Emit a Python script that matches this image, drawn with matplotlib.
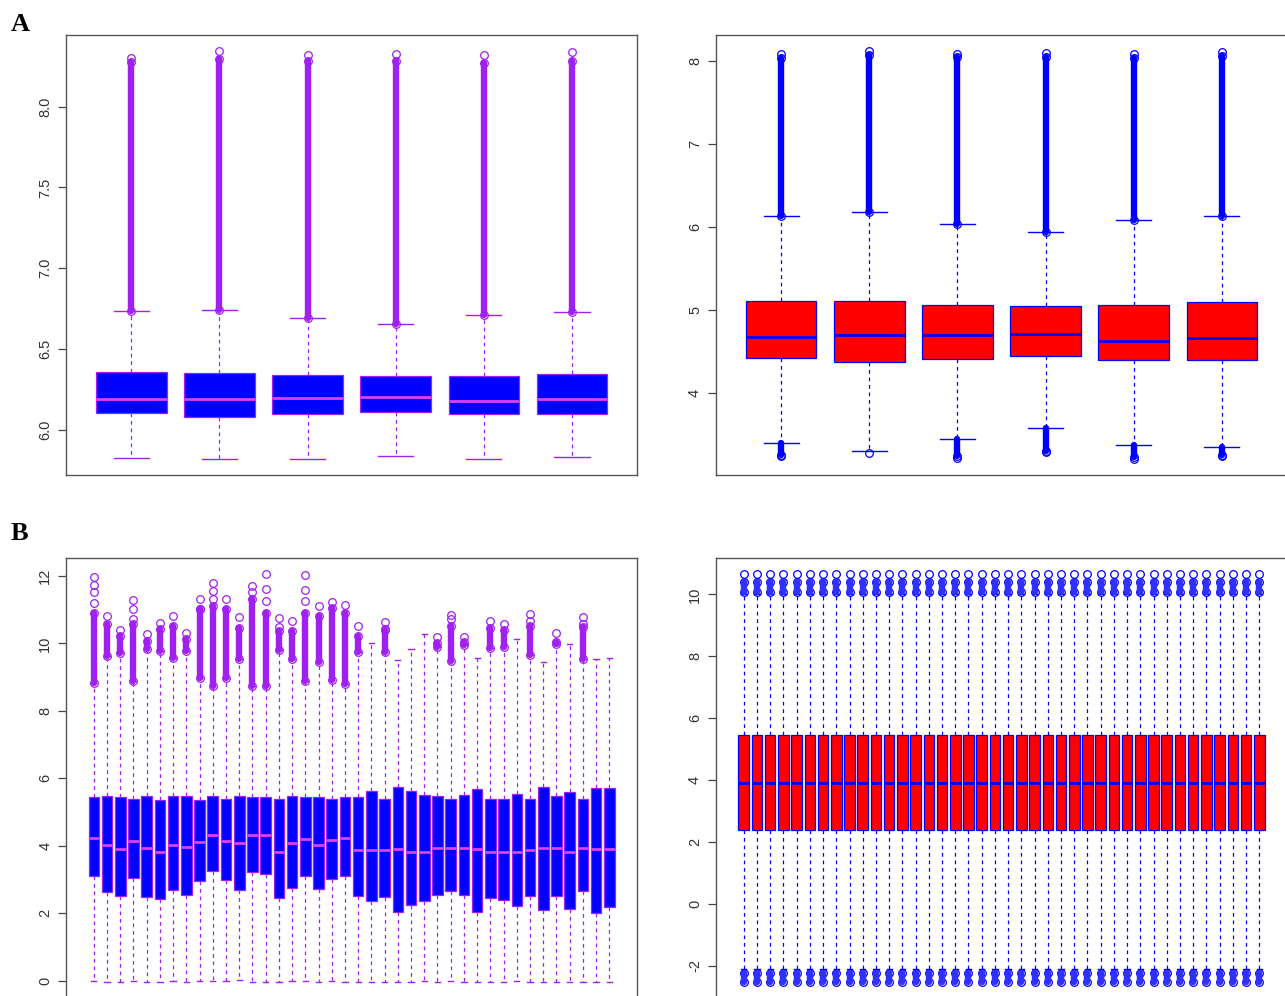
import matplotlib
matplotlib.use("Agg")
import matplotlib.pyplot as plt
import numpy as np

# ---- panel A, left (6 samples) ----
a1_q1 = [6.105, 6.081, 6.099, 6.112, 6.095, 6.095]
a1_med = [6.192, 6.188, 6.194, 6.200, 6.176, 6.190]
a1_q3 = [6.357, 6.349, 6.337, 6.329, 6.335, 6.347]
a1_wlo = [5.826, 5.820, 5.820, 5.835, 5.820, 5.829]
a1_whi = [6.735, 6.742, 6.692, 6.655, 6.711, 6.727]
a1_col_hi = [8.275, 8.295, 8.280, 8.285, 8.270, 8.285]
a1_max = [8.300, 8.343, 8.318, 8.324, 8.318, 8.337]

# ---- panel A, right (6 samples) ----
a2_q1 = [4.430, 4.382, 4.414, 4.454, 4.398, 4.398]
a2_med = [4.683, 4.703, 4.703, 4.715, 4.635, 4.671]
a2_q3 = [5.108, 5.108, 5.068, 5.048, 5.068, 5.096]
a2_wlo = [3.406, 3.309, 3.454, 3.578, 3.382, 3.357]
a2_whi = [6.137, 6.185, 6.040, 5.944, 6.088, 6.137]
a2_col_hi = [8.040, 8.070, 8.050, 8.050, 8.040, 8.060]
a2_max = [8.080, 8.116, 8.084, 8.096, 8.080, 8.112]
a2_col_lo = [3.260, np.nan, 3.240, 3.310, 3.230, 3.260]
a2_min = [3.240, 3.277, 3.217, 3.297, 3.213, 3.241]

# ---- panel B, left (40 samples) ----
b1_q1 = [3.11, 2.62, 2.50, 3.04, 2.47, 2.42, 2.69, 2.54, 2.96, 3.24,
         2.99, 2.69, 3.21, 3.17, 2.45, 2.74, 3.11, 2.71, 3.01, 3.11,
         2.50, 2.35, 2.48, 2.05, 2.25, 2.37, 2.54, 2.66, 2.54, 2.03,
         2.45, 2.40, 2.22, 2.50, 2.10, 2.51, 2.12, 2.66, 2.00, 2.18]
b1_med = [4.23, 4.03, 3.91, 4.15, 3.93, 3.83, 4.03, 3.95, 4.11, 4.31,
          4.15, 4.08, 4.31, 4.31, 3.81, 4.08, 4.21, 4.03, 4.18, 4.23,
          3.88, 3.88, 3.86, 3.91, 3.83, 3.83, 3.93, 3.93, 3.93, 3.91,
          3.83, 3.83, 3.81, 3.86, 3.93, 3.93, 3.83, 3.93, 3.91, 3.91]
b1_q3 = [5.44, 5.47, 5.44, 5.39, 5.47, 5.37, 5.47, 5.47, 5.37, 5.47,
         5.40, 5.47, 5.44, 5.44, 5.40, 5.49, 5.44, 5.44, 5.40, 5.44,
         5.44, 5.61, 5.40, 5.73, 5.61, 5.50, 5.49, 5.39, 5.51, 5.69,
         5.39, 5.39, 5.53, 5.39, 5.73, 5.49, 5.58, 5.39, 5.70, 5.70]
b1_wlo = [0.0, -0.03, -0.03, 0.0, -0.03, -0.03, 0.0, -0.03, 0.0, 0.0,
          0.0, 0.02, -0.03, -0.03, -0.03, 0.0, 0.0, -0.03, 0.0, -0.03,
          -0.03, -0.03, -0.03, -0.03, -0.03, 0.0, -0.03, 0.0, -0.03, -0.03,
          -0.03, -0.03, 0.0, -0.03, -0.03, -0.03, -0.03, -0.03, -0.03, -0.03]
b1_whi = [8.83, 9.62, 9.72, 8.88, 9.82, 9.77, 9.57, 9.77, 8.98, 8.75,
          8.98, 9.53, 8.75, 8.75, 9.80, 9.53, 8.88, 9.45, 8.91, 8.81,
          9.74, 10.02, 9.74, 9.50, 9.84, 10.27, 9.90, 9.48, 9.95, 9.57,
          9.85, 9.90, 10.14, 9.67, 9.45, 9.98, 9.97, 9.55, 9.53, 9.57]
b1_col_hi = [10.91, 10.57, 10.22, 10.57, 10.07, 10.42, 10.52, 10.12, 11.01, 11.11,
             11.01, 10.47, 11.31, 10.91, 10.37, 10.37, 10.91, 10.81, 11.06, 10.91,
             10.22, np.nan, 10.40, np.nan, np.nan, np.nan, 10.00, 10.52, 10.05, np.nan,
             10.45, 10.40, np.nan, 10.52, np.nan, 10.05, np.nan, 10.48, np.nan, np.nan]
b1_extra = [[11.98, 11.73, 11.51, 11.21], [10.81], [10.40], [11.29, 11.02, 10.72],
            [10.27], [10.60], [10.81], [10.30], [11.31, 11.02], [11.78, 11.55, 11.33],
            [11.31], [10.79], [11.70, 11.52], [12.05, 11.62, 11.25], [10.74, 10.50],
            [10.65], [12.03, 11.58, 11.25], [11.12], [11.22], [11.13],
            [10.52], [], [10.62, 10.42], [], [], [], [10.20], [10.83, 10.72],
            [10.20], [], [10.65], [10.57], [], [10.86, 10.65], [], [10.30], [],
            [10.79, 10.59], [], []]

# ---- panel B, right (40 samples, quantile normalised -> identical) ----
n_b2 = 40
b2_q1 = [2.39] * n_b2
b2_med = [3.90] * n_b2
b2_q3 = [5.46] * n_b2
b2_wlo = [-2.10] * n_b2
b2_whi = [10.00] * n_b2
b2_col_hi = [10.40] * n_b2
b2_col_lo = [-2.52] * n_b2
b2_max = [10.65] * n_b2
b2_lo_start = [-2.25] * n_b2
b2_hi_start = [10.08] * n_b2

PURPLE = "#A020F0"
BLUE = "#0000FF"
RED = "#FF0000"


def draw_panel(ax, q1, med, q3, wlo, whi, fliers, face, edge, medcol, yticks, fmt):
    stats = []
    for i in range(len(q1)):
        stats.append(dict(med=med[i], q1=q1[i], q3=q3[i],
                          whislo=wlo[i], whishi=whi[i], fliers=fliers[i]))
    ax.bxp(stats, positions=np.arange(1, len(q1) + 1), widths=0.8,
           patch_artist=True, showfliers=True,
           boxprops=dict(facecolor=face, edgecolor=edge, linewidth=0.9),
           medianprops=dict(color=medcol, linewidth=2.0, solid_capstyle="butt"),
           whiskerprops=dict(color=edge, linestyle=(0, (3, 3)), linewidth=0.9),
           capprops=dict(color=edge, linewidth=1.0),
           capwidths=0.4,
           flierprops=dict(marker="o", markerfacecolor="none", markeredgecolor=edge,
                           markersize=5.5, markeredgewidth=0.9, linestyle="none"))
    allv = [wlo, whi] + [fl for fl in fliers]
    lo = min(min(v) for v in allv if len(v))
    hi = max(max(v) for v in allv if len(v))
    pad = (hi - lo) * 0.04
    ax.set_ylim(lo - pad, hi + pad)
    n = len(q1)
    ax.set_xlim(0.5 - 0.04 * n, n + 0.5 + 0.04 * n)
    ax.set_xticks([])
    ax.set_yticks(yticks)
    ax.set_yticklabels([fmt.format(t) for t in yticks], rotation=90, va="center",
                       fontsize=10.5, family="Liberation Sans", color="#333333")
    ax.tick_params(axis="y", length=6, width=0.9, color="#444444", pad=4)
    for s in ax.spines.values():
        s.set_color("#555555")
        s.set_linewidth(1.0)


def columns(ax, lo, hi, color):
    x = np.arange(1, len(lo) + 1)
    lo = np.asarray(lo, float)
    hi = np.asarray(hi, float)
    ok = ~np.isnan(lo) & ~np.isnan(hi)
    lc = ax.vlines(x[ok], lo[ok], hi[ok], colors=color, linewidth=4.6, zorder=3)
    lc.set_capstyle("round")


fig = plt.figure(figsize=(12.85, 9.96), dpi=100)
ax_a1 = fig.add_axes([0.0514, 0.5231, 0.4444, 0.4418])
ax_a2 = fig.add_axes([0.5572, 0.5231, 0.4444, 0.4418])
ax_b1 = fig.add_axes([0.0514, -0.002, 0.4444, 0.4418])
ax_b2 = fig.add_axes([0.5572, -0.002, 0.4444, 0.4418])

# A left
fl = [[a1_whi[i], a1_col_hi[i], a1_max[i]] for i in range(6)]
draw_panel(ax_a1, a1_q1, a1_med, a1_q3, a1_wlo, a1_whi, fl, BLUE, PURPLE, "#E040F0",
           [6.0, 6.5, 7.0, 7.5, 8.0], "{:.1f}")
columns(ax_a1, a1_whi, a1_col_hi, PURPLE)

# A right
fl = []
for i in range(6):
    pts = [a2_whi[i], a2_col_hi[i], a2_max[i], a2_min[i]]
    if not np.isnan(a2_col_lo[i]):
        pts.append(a2_col_lo[i])
    fl.append(pts)
draw_panel(ax_a2, a2_q1, a2_med, a2_q3, a2_wlo, a2_whi, fl, RED, BLUE, BLUE,
           [4, 5, 6, 7, 8], "{:d}")
columns(ax_a2, a2_whi, a2_col_hi, BLUE)
columns(ax_a2, a2_wlo, a2_col_lo, BLUE)

# B left
fl = []
for i in range(40):
    pts = list(b1_extra[i])
    if not np.isnan(b1_col_hi[i]):
        pts += [b1_whi[i], b1_col_hi[i]]
    fl.append(pts)
draw_panel(ax_b1, b1_q1, b1_med, b1_q3, b1_wlo, b1_whi, fl, BLUE, PURPLE, "#E040F0",
           [0, 2, 4, 6, 8, 10, 12], "{:d}")
columns(ax_b1, b1_whi, b1_col_hi, PURPLE)

# B right
fl = [[b2_hi_start[i], b2_col_hi[i], b2_max[i], b2_lo_start[i], b2_col_lo[i]]
      for i in range(n_b2)]
draw_panel(ax_b2, b2_q1, b2_med, b2_q3, b2_wlo, b2_whi, fl, RED, BLUE, BLUE,
           [-2, 0, 2, 4, 6, 8, 10], "{:d}")
columns(ax_b2, b2_hi_start, b2_col_hi, "#3030FF")
columns(ax_b2, b2_col_lo, b2_lo_start, "#3030FF")

# bottom row is cut off at the lower edge of the figure
ax_b1.spines["bottom"].set_visible(False)
ax_b2.spines["bottom"].set_visible(False)

fig.text(0.008, 0.987, "A", fontsize=19, fontweight="bold", family="Liberation Serif",
         va="top", ha="left")
fig.text(0.008, 0.476, "B", fontsize=19, fontweight="bold", family="Liberation Serif",
         va="top", ha="left")

fig.savefig("out.png", dpi=100)
